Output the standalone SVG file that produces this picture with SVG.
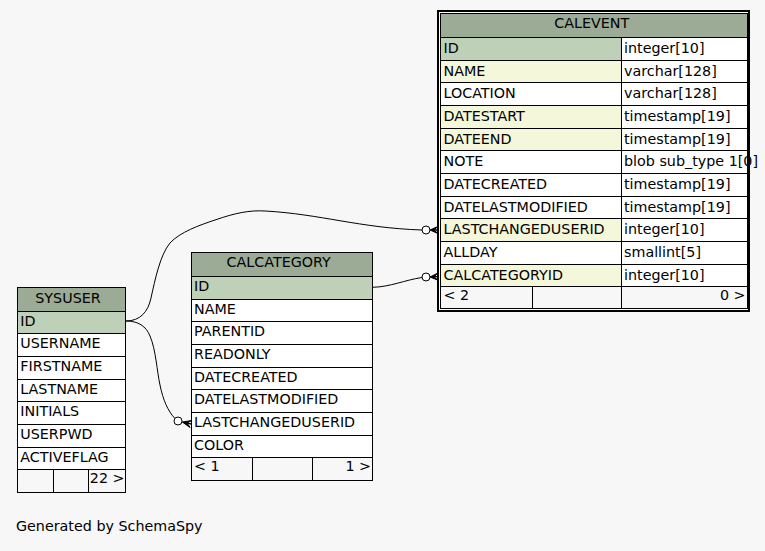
<svg xmlns="http://www.w3.org/2000/svg" width="765" height="551" viewBox="0 0 765 551">
<style>
text{font-family:"DejaVu Sans","Liberation Sans",sans-serif;font-size:14.3px;fill:#000}
.hd{fill:#9bab96}
.pk{fill:#bed1b8}
.fk{fill:#f4f7da}
.w{fill:#ffffff}
.ft{fill:#f7f7f7}
.t rect,.t line{stroke:#000;stroke-width:1;shape-rendering:crispEdges}
.c{fill:none;stroke:#000;stroke-width:1}
.od{fill:#fff;stroke:#000;stroke-width:1}
.cr{fill:#000;stroke:#000;stroke-width:1;stroke-linejoin:miter}
.m{text-anchor:middle}
.e{text-anchor:end}
</style>
<rect x="0" y="0" width="765" height="551" fill="#f7f7f7"/>

<g id="connectors">
<path class="c" d="M126,321 C140,321 148,312 151,298 C155,280 160,255 170,243 C180,232 200,225 215,220 C235,213 250,210 265,211 C320,214 360,228 422,230"/>
<circle class="od" cx="426" cy="230" r="4"/>
<polygon class="cr" points="430,230 438,226.4 434,230 438,230 434,230 438,233.6"/>
<path class="c" d="M126,321 C138,321 146,326 150,336 C156,350 157,372 160,385 C163,400 168,411 174.5,418"/>
<circle class="od" cx="178" cy="421" r="4"/>
<polygon class="cr" points="182.3,422 191.9,420.5 187.1,423 191,424 187.1,423 190.1,427.5"/>
<path class="c" d="M372.5,287.3 C390,287 405,280 422,277.5"/>
<circle class="od" cx="426" cy="277" r="4"/>
<polygon class="cr" points="430,277 438,273 434,276.8 438,276.6 434,276.8 438,280.2"/>
</g>

<g id="node-CALEVENT" class="t">
<rect x="438" y="11" width="311" height="300" fill="#fff" stroke-width="2" style="stroke-width:2"/>
<rect class="hd" x="440.5" y="13.5" width="307" height="23.8"/>
<rect class="pk" x="440.5" y="37.3" width="180.5" height="22.7"/><rect class="w" x="621" y="37.3" width="126.5" height="22.7"/>
<rect class="fk" x="440.5" y="60" width="180.5" height="22.6"/><rect class="w" x="621" y="60" width="126.5" height="22.6"/>
<rect class="w" x="440.5" y="82.6" width="180.5" height="22.7"/><rect class="w" x="621" y="82.6" width="126.5" height="22.7"/>
<rect class="fk" x="440.5" y="105.3" width="180.5" height="22.7"/><rect class="w" x="621" y="105.3" width="126.5" height="22.7"/>
<rect class="fk" x="440.5" y="128" width="180.5" height="22.6"/><rect class="w" x="621" y="128" width="126.5" height="22.6"/>
<rect class="w" x="440.5" y="150.6" width="180.5" height="22.7"/><rect class="w" x="621" y="150.6" width="126.5" height="22.7"/>
<rect class="w" x="440.5" y="173.3" width="180.5" height="22.7"/><rect class="w" x="621" y="173.3" width="126.5" height="22.7"/>
<rect class="w" x="440.5" y="196" width="180.5" height="22.6"/><rect class="w" x="621" y="196" width="126.5" height="22.6"/>
<rect class="fk" x="440.5" y="218.6" width="180.5" height="22.7"/><rect class="w" x="621" y="218.6" width="126.5" height="22.7"/>
<rect class="w" x="440.5" y="241.3" width="180.5" height="22.7"/><rect class="w" x="621" y="241.3" width="126.5" height="22.7"/>
<rect class="fk" x="440.5" y="264" width="180.5" height="22.6"/><rect class="w" x="621" y="264" width="126.5" height="22.6"/>
<rect class="ft" x="440.5" y="286.6" width="92.2" height="22"/><rect class="ft" x="532.7" y="286.6" width="88.3" height="22"/><rect class="ft" x="621" y="286.6" width="126.5" height="22"/>
<text class="m" x="591.7" y="28.3">CALEVENT</text>
<text x="443.5" y="52.8">ID</text><text x="624" y="52.8">integer[10]</text>
<text x="443.5" y="75.5">NAME</text><text x="624" y="75.5">varchar[128]</text>
<text x="443.5" y="98.1">LOCATION</text><text x="624" y="98.1">varchar[128]</text>
<text x="443.5" y="120.8">DATESTART</text><text x="624" y="120.8">timestamp[19]</text>
<text x="443.5" y="143.5">DATEEND</text><text x="624" y="143.5">timestamp[19]</text>
<text x="443.5" y="166.1">NOTE</text><text x="624" y="166.1">blob sub_type 1[0]</text>
<text x="443.5" y="188.8">DATECREATED</text><text x="624" y="188.8">timestamp[19]</text>
<text x="443.5" y="211.5">DATELASTMODIFIED</text><text x="624" y="211.5">timestamp[19]</text>
<text x="443.5" y="234.1">LASTCHANGEDUSERID</text><text x="624" y="234.1">integer[10]</text>
<text x="443.5" y="256.8">ALLDAY</text><text x="624" y="256.8">smallint[5]</text>
<text x="443.5" y="279.5">CALCATEGORYID</text><text x="624" y="279.5">integer[10]</text>
<text x="443.5" y="300.1">&lt; 2</text><text class="e" x="745.5" y="300.1">0 &gt;</text>
<line x1="748.3" y1="150" x2="748.3" y2="174" style="stroke-width:2"/>
</g>

<g id="node-SYSUSER" class="t">
<rect class="hd" x="17.3" y="287.3" width="108.4" height="23.7"/>
<rect class="pk" x="17.3" y="311" width="108.4" height="22.7"/>
<rect class="w" x="17.3" y="333.7" width="108.4" height="22.6"/>
<rect class="w" x="17.3" y="356.3" width="108.4" height="22.7"/>
<rect class="w" x="17.3" y="379" width="108.4" height="22.7"/>
<rect class="w" x="17.3" y="401.7" width="108.4" height="22.6"/>
<rect class="w" x="17.3" y="424.3" width="108.4" height="22.7"/>
<rect class="w" x="17.3" y="447" width="108.4" height="22.7"/>
<rect class="ft" x="17.3" y="469.7" width="36" height="22.6"/><rect class="ft" x="53.3" y="469.7" width="35.4" height="22.6"/><rect class="ft" x="88.7" y="469.7" width="37" height="22.6"/>
<text class="m" x="68" y="302.7">SYSUSER</text>
<text x="20.3" y="325.5">ID</text>
<text x="20.3" y="348.2">USERNAME</text>
<text x="20.3" y="370.8">FIRSTNAME</text>
<text x="20.3" y="393.5">LASTNAME</text>
<text x="20.3" y="416.2">INITIALS</text>
<text x="20.3" y="438.8">USERPWD</text>
<text x="20.3" y="461.5">ACTIVEFLAG</text>
<text class="e" x="124.5" y="483.3">22 &gt;</text>
</g>

<g id="node-CALCATEGORY" class="t">
<rect class="hd" x="191" y="252.3" width="181.3" height="24.2"/>
<rect class="pk" x="191" y="276.5" width="181.3" height="22.7"/>
<rect class="w" x="191" y="299.2" width="181.3" height="22.6"/>
<rect class="w" x="191" y="321.8" width="181.3" height="22.7"/>
<rect class="w" x="191" y="344.5" width="181.3" height="22.7"/>
<rect class="w" x="191" y="367.2" width="181.3" height="22.6"/>
<rect class="w" x="191" y="389.8" width="181.3" height="22.7"/>
<rect class="w" x="191" y="412.5" width="181.3" height="22.7"/>
<rect class="w" x="191" y="435.2" width="181.3" height="22.6"/>
<rect class="ft" x="191" y="457.8" width="61.7" height="22.6"/><rect class="ft" x="252.7" y="457.8" width="60" height="22.6"/><rect class="ft" x="312.7" y="457.8" width="59.6" height="22.6"/>
<text class="m" x="278.7" y="266.7">CALCATEGORY</text>
<text x="194" y="290.8">ID</text>
<text x="194" y="313.5">NAME</text>
<text x="194" y="336.1">PARENTID</text>
<text x="194" y="358.8">READONLY</text>
<text x="194" y="381.5">DATECREATED</text>
<text x="194" y="404.1">DATELASTMODIFIED</text>
<text x="194" y="426.8">LASTCHANGEDUSERID</text>
<text x="194" y="449.5">COLOR</text>
<text x="194" y="471.4">&lt; 1</text><text class="e" x="371" y="471.4">1 &gt;</text>
</g>

<text x="16" y="530.5">Generated by SchemaSpy</text>
</svg>
